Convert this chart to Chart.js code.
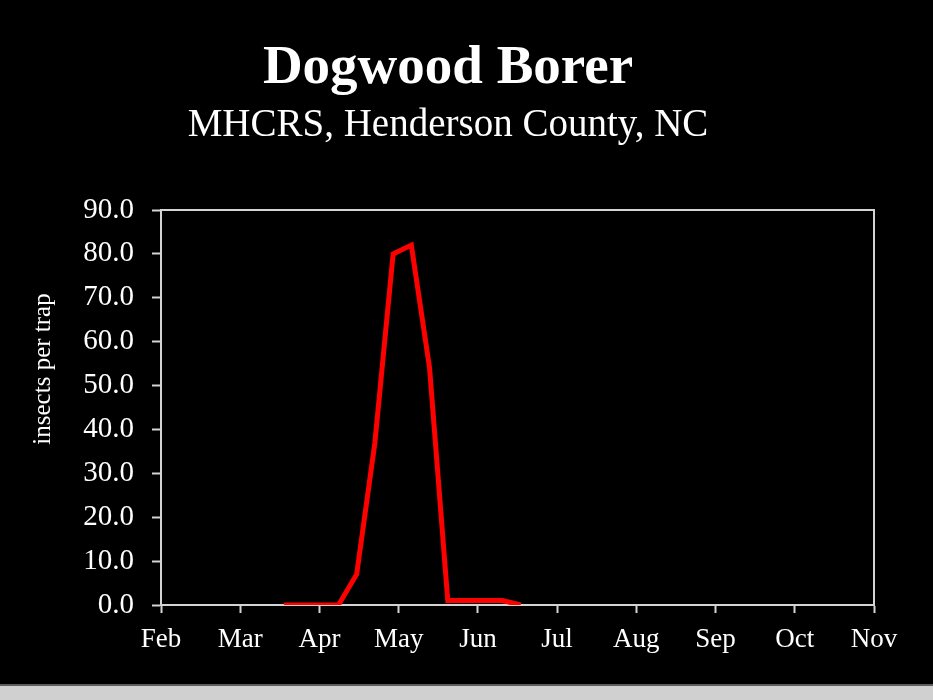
<!DOCTYPE html>
<html>
<head>
<meta charset="utf-8">
<script src="https://cdn.jsdelivr.net/npm/chart.js@4"></script>
<style>
  html, body { margin: 0; padding: 0; background: #000; }
  #wrap { width: 933px; height: 684px; }
  #bar { width: 933px; height: 14px; border-top: 2px solid #5e5e5e; background: #d0d0d0; }
</style>
</head>
<body>
<div id="wrap"><canvas id="chart" width="933" height="684"></canvas></div>
<div id="bar"></div>
<script>
// Month tick labels (x = 0 is Feb, x = 9 is Nov)
const monthLabels = ['Feb', 'Mar', 'Apr', 'May', 'Jun', 'Jul', 'Aug', 'Sep', 'Oct', 'Nov'];
// Weekly trap checks, position in months from Feb 1
const sampleMonths = [1.55, 1.78, 2.01, 2.24, 2.47, 2.70, 2.93, 3.16, 3.39, 3.62, 3.85, 4.08, 4.31, 4.54];
// Insects per trap at each check
const trapCounts = [0, 0, 0, 0, 7, 37, 80, 82, 54, 1, 1, 1, 1, 0];
const yTicks = [0, 10, 20, 30, 40, 50, 60, 70, 80, 90];

const FONT = '"Liberation Serif", "Times New Roman", serif';
const INK = '#ffffff';
const LINE = '#d4d4d4';

// Верх и правая сторона рамки вокруг области графика
const frameBox = {
  id: 'frameBox',
  afterDraw(chart) {
    const { ctx, chartArea: a } = chart;
    ctx.save();
    ctx.strokeStyle = LINE;
    ctx.lineWidth = 2;
    ctx.beginPath();
    ctx.moveTo(a.left, a.top);
    ctx.lineTo(a.right, a.top);
    ctx.lineTo(a.right, a.bottom);
    ctx.stroke();
    ctx.restore();
  },
};

// Подпись оси Y стоит выше центра оси, как в оригинале
const yTitle = {
  id: 'yTitle',
  afterDraw(chart) {
    const { ctx } = chart;
    ctx.save();
    ctx.translate(43, 369);
    ctx.rotate(-Math.PI / 2);
    ctx.fillStyle = INK;
    ctx.font = `25px ${FONT}`;
    ctx.textAlign = 'center';
    ctx.textBaseline = 'middle';
    ctx.fillText('insects per trap', 0, 0);
    ctx.restore();
  },
};

new Chart(document.getElementById('chart'), {
  type: 'line',
  data: {
    datasets: [
      {
        data: sampleMonths.map((m, i) => ({ x: m, y: trapCounts[i] })),
        borderColor: '#ff0000',
        borderWidth: 5,
        pointRadius: 0,
        tension: 0,
        fill: false,
      },
    ],
  },
  options: {
    responsive: false,
    animation: false,
    layout: { padding: { left: 22, right: 59, top: 0, bottom: 19 } },
    plugins: {
      legend: { display: false },
      tooltip: { enabled: false },
      title: {
        display: true,
        text: 'Dogwood Borer',
        color: INK,
        font: { family: FONT, size: 55, weight: 'bold', lineHeight: 1.2 },
        padding: { top: 36, bottom: 0 },
      },
      subtitle: {
        display: true,
        text: 'MHCRS, Henderson County, NC',
        color: INK,
        font: { family: FONT, size: 39, lineHeight: 1.2 },
        padding: { top: 0, bottom: 61.2 },
      },
    },
    scales: {
      x: {
        type: 'linear',
        min: 0,
        max: monthLabels.length - 1,
        afterFit: (scale) => { scale.height = 60; },
        afterBuildTicks: (scale) => {
          scale.ticks = monthLabels.map((_, i) => ({ value: i }));
        },
        border: { color: LINE, width: 2 },
        grid: { drawOnChartArea: false, drawTicks: true, tickLength: 8, tickColor: LINE, tickWidth: 2 },
        ticks: {
          color: INK,
          font: { family: FONT, size: 27 },
          padding: 11,
          maxRotation: 0,
          autoSkip: false,
          callback: (v) => monthLabels[v],
        },
      },
      y: {
        min: 0,
        max: 90,
        afterFit: (scale) => { scale.width = 139; },
        afterBuildTicks: (scale) => {
          scale.ticks = yTicks.map((v) => ({ value: v }));
        },
        border: { color: LINE, width: 2 },
        grid: { drawOnChartArea: false, drawTicks: true, tickLength: 9, tickColor: LINE, tickWidth: 2 },
        ticks: {
          color: INK,
          font: { family: FONT, size: 29 },
          padding: 18,
          callback: (v) => v.toFixed(1),
        },
      },
    },
  },
  plugins: [frameBox, yTitle],
});
</script>
</body>
</html>
